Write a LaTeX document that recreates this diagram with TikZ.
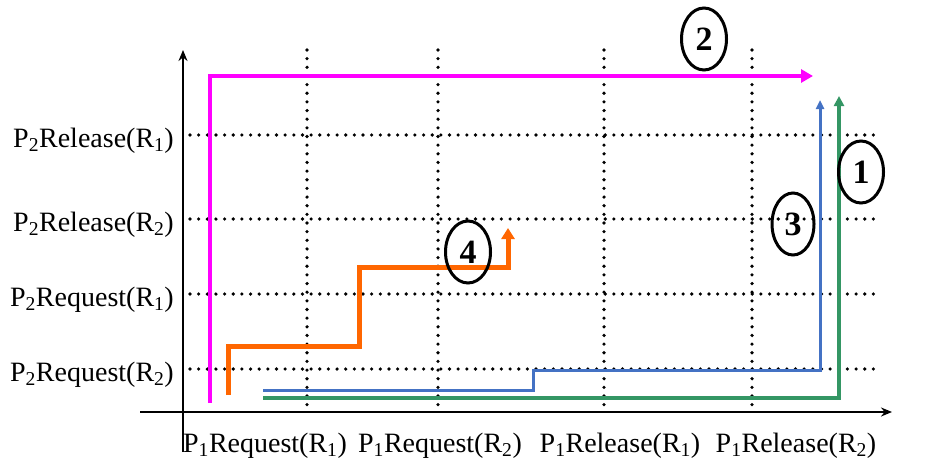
\documentclass[tikz,border=0pt]{standalone}
\usepackage{fontspec}
\setmainfont{Liberation Serif}
\usetikzlibrary{arrows.meta,shapes.geometric}

\definecolor{pathmag}{RGB}{255,0,255}
\definecolor{pathorg}{RGB}{255,102,0}
\definecolor{pathblu}{RGB}{68,114,196}
\definecolor{pathgrn}{RGB}{52,150,100}

\tikzset{
  axis/.style={line width=2.4pt,-{Stealth[length=11pt,width=9pt]}},
  griddots/.style={line width=3.6pt,line cap=round,dash pattern=on 0pt off 8.65pt},
  steplabel/.style={ellipse,draw,line width=3pt,minimum width=45pt,minimum height=62pt,
    inner sep=0pt,font=\fontsize{34}{36}\selectfont\bfseries},
  axlabel/.style={font=\fontsize{28}{30}\selectfont,inner sep=0pt}
}

\begin{document}
\begin{tikzpicture}[x=1pt,y=-1pt]
\useasboundingbox (0,0) rectangle (944,471);

% axes
\coordinate (xs) at (140,412);
\coordinate (xe) at (892,412);
\coordinate (ys) at (183,452);
\coordinate (ye) at (183,50);
\draw[axis] (xs) -- (xe);
\draw[axis] (ys) -- (ye);

% dotted grid with labels
\foreach \yy/\name/\txt in {135/ra/Release(R\textsubscript{1}),219/rb/Release(R\textsubscript{2}),
    294/qa/Request(R\textsubscript{1}),369/qb/Request(R\textsubscript{2})}{
  \coordinate (h\name) at (190,\yy);
  \coordinate (h\name') at (876,\yy);
  \draw[griddots] (h\name) -- (h\name');
  \node[axlabel,anchor=base east] (l\name) at (174,\yy+12) {P\textsubscript{2}\txt};
}
\foreach \xx/\name in {307/a,438/b,604/c,752/d}{
  \coordinate (v\name) at (\xx,50);
  \coordinate (v\name') at (\xx,410);
  \draw[griddots] (v\name) -- (v\name');
}
\node[axlabel,anchor=base] (p1) at (265,452) {P\textsubscript{1}Request(R\textsubscript{1})};
\node[axlabel,anchor=base] (p2) at (440,452) {P\textsubscript{1}Request(R\textsubscript{2})};
\node[axlabel,anchor=base] (p3) at (620,452) {P\textsubscript{1}Release(R\textsubscript{1})};
\node[axlabel,anchor=base] (p4) at (796,452) {P\textsubscript{1}Release(R\textsubscript{2})};

% path 2
\coordinate (m0) at (210,403);
\coordinate (m1) at (813,76);
\draw[pathmag,line width=4pt,-{Triangle[length=12pt,width=13pt]}] (m0) |- (m1);

% path 4
\coordinate (o0) at (228,395);
\coordinate (o1) at (359,346);
\coordinate (o2) at (508,267);
\coordinate (o3) at (508,228);
\draw[pathorg,line width=5pt,-{Triangle[length=11pt,width=13pt]}]
  (o0) |- (o1) |- (o2) -- (o3);

% path 3
\coordinate (b0) at (263,390);
\coordinate (b1) at (533,370);
\coordinate (b2) at (820,100);
\draw[pathblu,line width=3pt,-{Triangle[length=9pt,width=8pt]}] (b0) -| (b1) -| (b2);

% path 1
\coordinate (g0) at (263,398);
\coordinate (g1) at (839,96);
\draw[pathgrn,line width=3.8pt,-{Triangle[length=10pt,width=10pt]}] (g0) -| (g1);

% path numbers
\node[steplabel] (n2) at (704,39) {2};
\node[steplabel] (n1) at (861,172) {1};
\node[steplabel,minimum width=42pt] (n3) at (793,224) {3};
\node[steplabel] (n4) at (468,252) {4};

\end{tikzpicture}
\end{document}
